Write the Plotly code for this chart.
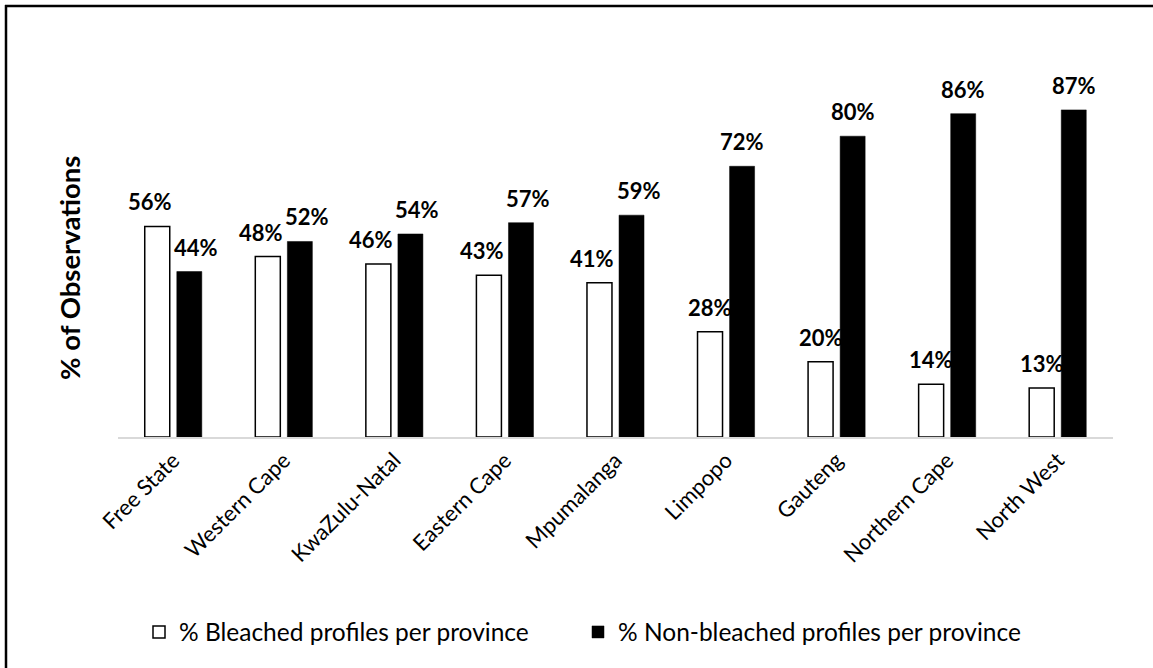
import plotly.graph_objects as go

provinces = ["Free State", "Western Cape", "KwaZulu-Natal", "Eastern Cape", "Mpumalanga",
             "Limpopo", "Gauteng", "Northern Cape", "North West"]
bleached = [56, 48, 46, 43, 41, 28, 20, 14, 13]
non_bleached = [44, 52, 54, 57, 59, 72, 80, 86, 87]
series_names = ["% Bleached profiles per province", "% Non-bleached profiles per province"]

FONT = "Lato, Calibri, Arial, sans-serif"

# plot area in pixels: x 118..1113, y 61..437
W, H = 1153, 668
L, R, T, B = 118, 40, 61, 231
pw, ph = W - L - R, H - T - B
BARGAP, GROUPGAP = 0.42, 0.22


def px_x(x):
    return (x - L) / pw


def px_y(y):
    return (H - B - y) / ph


fig = go.Figure()
fig.add_trace(go.Bar(
    x=provinces, y=bleached, name=series_names[0], legend="legend",
    marker=dict(color="white", line=dict(color="black", width=1.5)),
))
fig.add_trace(go.Bar(
    x=provinces, y=non_bleached, name=series_names[1], legend="legend2",
    marker=dict(color="black", line=dict(color="black", width=0.5)),
))

# value labels above each bar; nudge apart pairs whose labels sit at similar heights
cat_px = pw / len(provinces)
bar_off = (1 - BARGAP) / 4 * cat_px
label_font = dict(family=FONT, size=22, color="black", weight="bold")
for cat, a, b in zip(provinces, bleached, non_bleached):
    nudge = 7 if abs(a - b) < 20 else 0
    for val, sign in ((a, -1), (b, 1)):
        fig.add_annotation(
            x=cat, y=val, xref="x", yref="y", text=f"<b>{val}%</b>",
            showarrow=False, xanchor="center", yanchor="bottom",
            xshift=sign * (bar_off + nudge), yshift=9, font=label_font,
        )

legend_common = dict(orientation="h", yanchor="middle", xanchor="left",
                     font=dict(family=FONT, size=24.5, color="black"),
                     itemwidth=30, bgcolor="rgba(0,0,0,0)")

fig.update_layout(
    width=W, height=H,
    margin=dict(l=L, r=R, t=T, b=B, autoexpand=False),
    paper_bgcolor="white", plot_bgcolor="white",
    barmode="group", bargap=BARGAP, bargroupgap=GROUPGAP,
    font=dict(family=FONT, color="black"),
    showlegend=True,
    legend=dict(x=px_x(139), y=px_y(632), **legend_common),
    legend2=dict(x=px_x(578), y=px_y(632), **legend_common),
)
fig.update_xaxes(
    tickangle=-45, tickfont=dict(family=FONT, size=22, color="black"),
    showline=True, linecolor="#d9d9d9", linewidth=1.5, ticks="", showgrid=False,
    automargin=False,
)
fig.update_yaxes(range=[0, 100], visible=False, showgrid=False)

fig.add_annotation(
    text="<b>% of Observations</b>", textangle=-90,
    xref="paper", yref="paper", x=px_x(69), y=px_y(268),
    xanchor="center", yanchor="middle", showarrow=False,
    font=dict(family=FONT, size=27.5, color="black"),
)

# outer frame: left and top edges
fig.add_shape(type="line", xref="paper", yref="paper",
              x0=px_x(6), x1=px_x(6), y0=px_y(5), y1=px_y(680),
              line=dict(color="black", width=2.5))
fig.add_shape(type="line", xref="paper", yref="paper",
              x0=px_x(5), x1=px_x(1160), y0=px_y(6), y1=px_y(6),
              line=dict(color="black", width=2.5))

fig.write_html("out.html")
